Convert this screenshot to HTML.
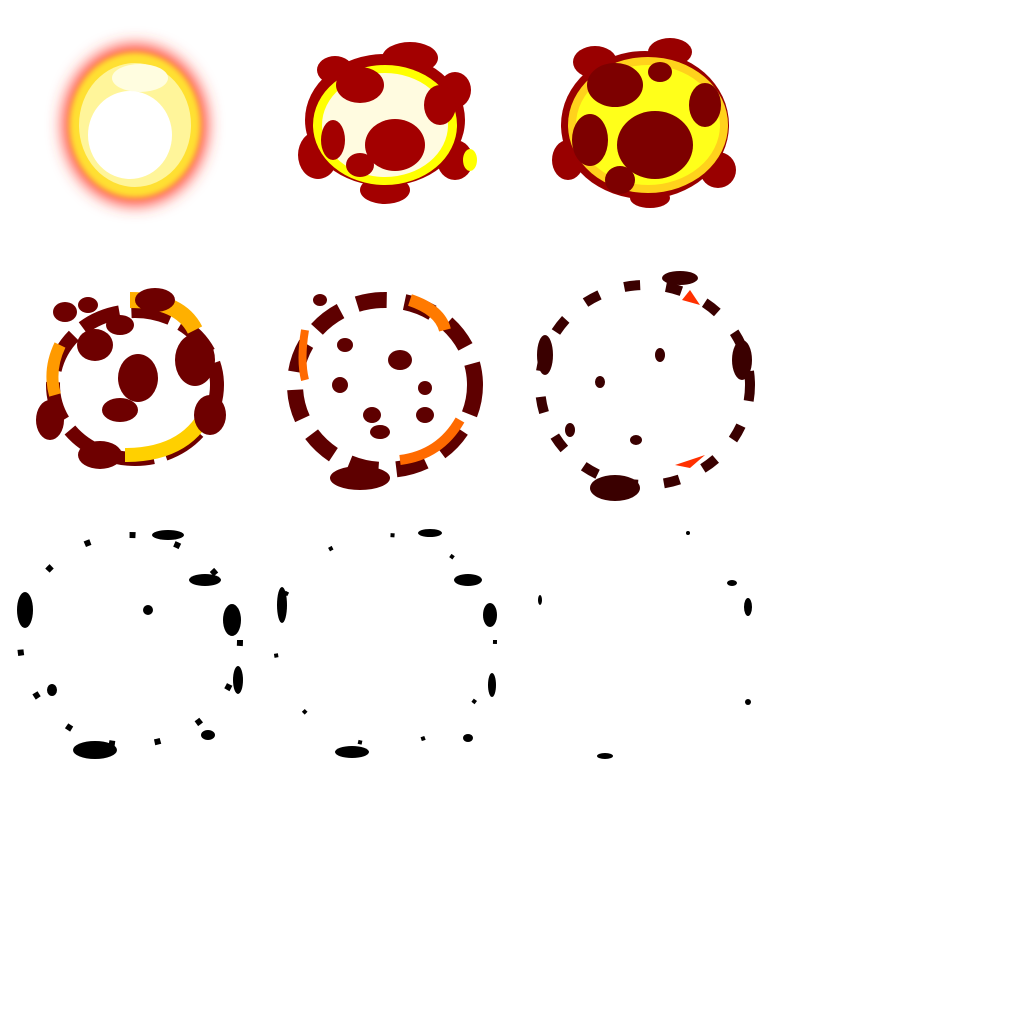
<!DOCTYPE html>
<html><head><meta charset="utf-8"><style>
html,body{margin:0;padding:0;background:#fff;width:1024px;height:1024px;overflow:hidden}
svg{display:block}
</style></head><body>
<svg width="1024" height="1024" viewBox="0 0 1024 1024">
<defs>
<filter id="blur" x="-50%" y="-50%" width="200%" height="200%"><feGaussianBlur stdDeviation="8"/></filter>
<filter id="blur2" x="-50%" y="-50%" width="200%" height="200%"><feGaussianBlur stdDeviation="3"/></filter>
</defs>
<!-- Frame 1 -->
<g>
<ellipse cx="135" cy="125" rx="72" ry="80" fill="#ff4030" filter="url(#blur)"/>
<ellipse cx="135" cy="125" rx="66" ry="73" fill="#ffe030" filter="url(#blur2)"/>
<ellipse cx="135" cy="125" rx="56" ry="62" fill="#fff59a"/>
<ellipse cx="140" cy="78" rx="28" ry="14" fill="#fffde0"/>
<ellipse cx="130" cy="135" rx="42" ry="44" fill="#fff"/>
</g>
<!-- Frame 2 -->
<g>
<g fill="#a30000">
<ellipse cx="385" cy="120" rx="80" ry="66"/>
<ellipse cx="410" cy="58" rx="28" ry="16"/>
<ellipse cx="335" cy="70" rx="18" ry="14"/>
<ellipse cx="318" cy="155" rx="20" ry="24"/>
<ellipse cx="455" cy="160" rx="18" ry="20"/>
<ellipse cx="385" cy="190" rx="25" ry="14"/>
<ellipse cx="455" cy="90" rx="16" ry="18"/>
</g>
<ellipse cx="385" cy="125" rx="72" ry="60" fill="#ffff00"/>
<ellipse cx="385" cy="125" rx="63" ry="52" fill="#fffbe0"/>
<g fill="#a30000">
<ellipse cx="360" cy="85" rx="24" ry="18"/>
<ellipse cx="440" cy="105" rx="16" ry="20"/>
<ellipse cx="395" cy="145" rx="30" ry="26"/>
<ellipse cx="333" cy="140" rx="12" ry="20"/>
<ellipse cx="360" cy="165" rx="14" ry="12"/>
</g>
<ellipse cx="470" cy="160" rx="7" ry="11" fill="#ffff00"/>
</g>
<!-- Frame 3 -->
<g>
<g fill="#990000">
<ellipse cx="645" cy="125" rx="84" ry="74"/>
<ellipse cx="595" cy="62" rx="22" ry="16"/>
<ellipse cx="670" cy="52" rx="22" ry="14"/>
<ellipse cx="568" cy="160" rx="16" ry="20"/>
<ellipse cx="718" cy="170" rx="18" ry="18"/>
<ellipse cx="650" cy="198" rx="20" ry="10"/>
</g>
<ellipse cx="648" cy="125" rx="80" ry="68" fill="#ffd21c"/>
<ellipse cx="648" cy="125" rx="72" ry="60" fill="#ffff1a"/>
<g fill="#7d0000">
<ellipse cx="615" cy="85" rx="28" ry="22"/>
<ellipse cx="655" cy="145" rx="38" ry="34"/>
<ellipse cx="590" cy="140" rx="18" ry="26"/>
<ellipse cx="705" cy="105" rx="16" ry="22"/>
<ellipse cx="620" cy="180" rx="15" ry="14"/>
<ellipse cx="660" cy="72" rx="12" ry="10"/>
</g>
</g>
<!-- Frame 4 -->
<g fill="#6e0000">
<ellipse cx="135" cy="385" rx="82" ry="74" fill="none" stroke="#6e0000" stroke-width="14" stroke-dasharray="40 12"/>
<path d="M60 345 Q48 370 55 395" stroke="#ff9a00" stroke-width="12" fill="none"/>
<path d="M130 300 Q180 300 195 330" stroke="#ffb000" stroke-width="16" fill="none"/>
<path d="M125 455 Q190 455 210 405" stroke="#ffd000" stroke-width="14" fill="none"/>
<ellipse cx="195" cy="360" rx="20" ry="26"/>
<ellipse cx="210" cy="415" rx="16" ry="20"/>
<ellipse cx="50" cy="420" rx="14" ry="20"/>
<ellipse cx="100" cy="455" rx="22" ry="14"/>
<ellipse cx="155" cy="300" rx="20" ry="12"/>
<ellipse cx="138" cy="378" rx="20" ry="24"/>
<ellipse cx="120" cy="410" rx="18" ry="12"/>
<ellipse cx="95" cy="345" rx="18" ry="16"/>
<ellipse cx="120" cy="325" rx="14" ry="10"/>
<ellipse cx="65" cy="312" rx="12" ry="10"/>
<ellipse cx="88" cy="305" rx="10" ry="8"/>
</g>
<!-- Frame 5 -->
<g fill="#5e0000">
<ellipse cx="385" cy="385" rx="90" ry="85" fill="none" stroke="#5e0000" stroke-width="16" stroke-dasharray="30 18"/>
<path d="M410 300 Q440 310 445 330" stroke="#ff7a00" stroke-width="12" fill="none"/>
<path d="M400 460 Q440 455 460 420" stroke="#ff6a00" stroke-width="10" fill="none"/>
<path d="M305 330 Q300 360 305 380" stroke="#ff6a00" stroke-width="8" fill="none"/>
<ellipse cx="360" cy="478" rx="30" ry="12"/>
<ellipse cx="400" cy="360" rx="12" ry="10"/><ellipse cx="340" cy="385" rx="8" ry="8"/>
<ellipse cx="372" cy="415" rx="9" ry="8"/><ellipse cx="425" cy="415" rx="9" ry="8"/>
<ellipse cx="380" cy="432" rx="10" ry="7"/><ellipse cx="345" cy="345" rx="8" ry="7"/>
<ellipse cx="425" cy="388" rx="7" ry="7"/><ellipse cx="320" cy="300" rx="7" ry="6"/>
</g>
<!-- Frame 6 -->
<g fill="#3a0000">
<ellipse cx="645" cy="385" rx="105" ry="100" fill="none" stroke="#3a0000" stroke-width="10" stroke-dasharray="16 26"/>
<ellipse cx="615" cy="488" rx="25" ry="13"/><ellipse cx="680" cy="278" rx="18" ry="7"/>
<ellipse cx="742" cy="360" rx="10" ry="20"/><ellipse cx="545" cy="355" rx="8" ry="20"/>
<ellipse cx="600" cy="382" rx="5" ry="6"/><ellipse cx="660" cy="355" rx="5" ry="7"/>
<ellipse cx="636" cy="440" rx="6" ry="5"/><ellipse cx="570" cy="430" rx="5" ry="7"/>
<path d="M682 300 L700 305 L690 290Z" fill="#ff3000"/><path d="M675 465 L705 455 L690 468Z" fill="#ff3000"/>
</g>
<!-- Frame 7 -->
<g fill="#000">
<ellipse cx="130" cy="640" rx="110" ry="105" fill="none" stroke="#000" stroke-width="6" stroke-dasharray="6 40"/>
<ellipse cx="95" cy="750" rx="22" ry="9"/><ellipse cx="168" cy="535" rx="16" ry="5"/>
<ellipse cx="232" cy="620" rx="9" ry="16"/><ellipse cx="25" cy="610" rx="8" ry="18"/>
<ellipse cx="205" cy="580" rx="16" ry="6"/><ellipse cx="238" cy="680" rx="5" ry="14"/>
<ellipse cx="52" cy="690" rx="5" ry="6"/><ellipse cx="148" cy="610" rx="5" ry="5"/>
<ellipse cx="208" cy="735" rx="7" ry="5"/>
</g>
<!-- Frame 8 -->
<g fill="#000">
<ellipse cx="385" cy="640" rx="110" ry="105" fill="none" stroke="#000" stroke-width="4" stroke-dasharray="4 60"/>
<ellipse cx="352" cy="752" rx="17" ry="6"/><ellipse cx="490" cy="615" rx="7" ry="12"/>
<ellipse cx="468" cy="580" rx="14" ry="6"/><ellipse cx="282" cy="605" rx="5" ry="18"/>
<ellipse cx="430" cy="533" rx="12" ry="4"/><ellipse cx="492" cy="685" rx="4" ry="12"/>
<ellipse cx="468" cy="738" rx="5" ry="4"/>
</g>
<!-- Frame 9 -->
<g fill="#000">
<ellipse cx="748" cy="607" rx="4" ry="9"/><ellipse cx="605" cy="756" rx="8" ry="3"/>
<ellipse cx="732" cy="583" rx="5" ry="3"/><ellipse cx="540" cy="600" rx="2" ry="5"/>
<ellipse cx="748" cy="702" rx="3" ry="3"/><ellipse cx="688" cy="533" rx="2" ry="2"/>
</g>
</svg>
</body></html>
